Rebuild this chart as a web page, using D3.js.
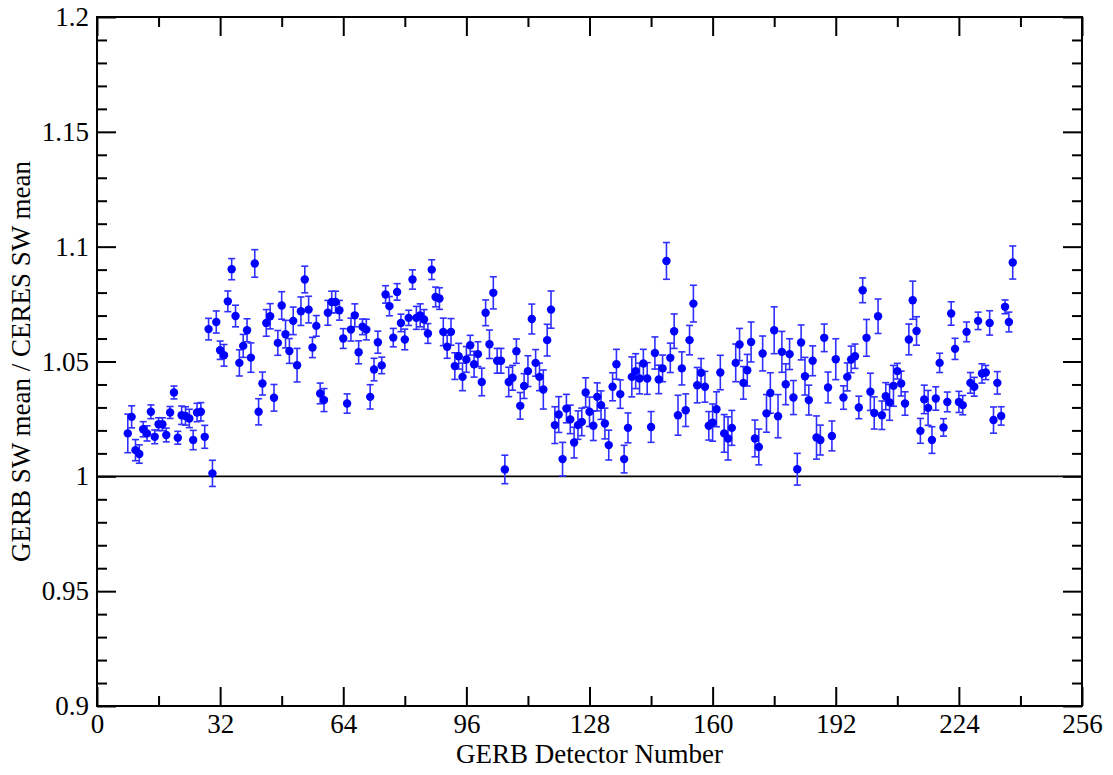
<!DOCTYPE html>
<html>
<head>
<meta charset="utf-8">
<title>GERB / CERES SW ratio</title>
<script src="https://cdn.jsdelivr.net/npm/d3@7"></script>
<style>
	body { margin: 0; background: #fff; }
	svg { display: block; }
	.axis text { font-family: "Liberation Serif", "DejaVu Serif", serif; font-size: 27px; fill: #000; }
	.axis line { stroke: #000; stroke-width: 2; }
	.axis path { display: none; }
	.axis-label { font-family: "Liberation Serif", "DejaVu Serif", serif; font-size: 27px; fill: #000; }
</style>
</head>
<body>
<svg id="ratio-chart" width="1113" height="775"></svg>
<script>
// detector numbers (x), no reading for 193
var detectors = [
	8, 9, 10, 11, 12, 13, 14, 15, 16, 17,
	18, 19, 20, 21, 22, 23, 24, 25, 26, 27,
	28, 29, 30, 31, 32, 33, 34, 35, 36, 37,
	38, 39, 40, 41, 42, 43, 44, 45, 46, 47,
	48, 49, 50, 51, 52, 53, 54, 55, 56, 57,
	58, 59, 60, 61, 62, 63, 64, 65, 66, 67,
	68, 69, 70, 71, 72, 73, 74, 75, 76, 77,
	78, 79, 80, 81, 82, 83, 84, 85, 86, 87,
	88, 89, 90, 91, 92, 93, 94, 95, 96, 97,
	98, 99, 100, 101, 102, 103, 104, 105, 106, 107,
	108, 109, 110, 111, 112, 113, 114, 115, 116, 117,
	118, 119, 120, 121, 122, 123, 124, 125, 126, 127,
	128, 129, 130, 131, 132, 133, 134, 135, 136, 137,
	138, 139, 140, 141, 142, 143, 144, 145, 146, 147,
	148, 149, 150, 151, 152, 153, 154, 155, 156, 157,
	158, 159, 160, 161, 162, 163, 164, 165, 166, 167,
	168, 169, 170, 171, 172, 173, 174, 175, 176, 177,
	178, 179, 180, 181, 182, 183, 184, 185, 186, 187,
	188, 189, 190, 191, 192,
	194, 195, 196, 197, 198, 199, 200, 201, 202, 203,
	204, 205, 206, 207, 208, 209, 210, 211, 212, 213,
	214, 215, 216, 217, 218, 219, 220, 221, 222, 223,
	224, 225, 226, 227, 228, 229, 230, 231, 232, 233,
	234, 235, 236, 237, 238
];

// GERB SW mean / CERES SW mean
var ratios = [
	1.0187, 1.0259, 1.0114, 1.0097, 1.0205, 1.0187, 1.0281, 1.0172, 1.0227, 1.0227,
	1.0180, 1.0278, 1.0365, 1.0168, 1.0266, 1.0263, 1.0252, 1.0158, 1.0278, 1.0281,
	1.0172, 1.0641, 1.0013, 1.0672, 1.0549, 1.0527, 1.0762, 1.0902, 1.0698, 1.0494,
	1.0568, 1.0636, 1.0517, 1.0927, 1.0281, 1.0404, 1.0668, 1.0697, 1.0342, 1.0581,
	1.0744, 1.0619, 1.0546, 1.0677, 1.0484, 1.0719, 1.0857, 1.0726, 1.0561, 1.0655,
	1.0361, 1.0332, 1.0712, 1.0759, 1.0759, 1.0723, 1.0600, 1.0317, 1.0639, 1.0701,
	1.0540, 1.0651, 1.0639, 1.0346, 1.0465, 1.0584, 1.0483, 1.0792, 1.0741, 1.0604,
	1.0803, 1.0668, 1.0596, 1.0690, 1.0857, 1.0690, 1.0701, 1.0683, 1.0622, 1.0900,
	1.0781, 1.0774, 1.0629, 1.0564, 1.0629, 1.0480, 1.0523, 1.0433, 1.0509, 1.0571,
	1.0488, 1.0532, 1.0411, 1.0712, 1.0575, 1.0799, 1.0503, 1.0503, 1.0030, 1.0411,
	1.0429, 1.0545, 1.0307, 1.0393, 1.0458, 1.0685, 1.0494, 1.0433, 1.0378, 1.0593,
	1.0726, 1.0223, 1.0269, 1.0075, 1.0295, 1.0248, 1.0147, 1.0223, 1.0237, 1.0365,
	1.0281, 1.0220, 1.0346, 1.0310, 1.0230, 1.0136, 1.0390, 1.0488, 1.0358, 1.0075,
	1.0211, 1.0433, 1.0458, 1.0426, 1.0491, 1.0426, 1.0215, 1.0537, 1.0422, 1.0470,
	1.0938, 1.0516, 1.0632, 1.0266, 1.0470, 1.0288, 1.0593, 1.0752, 1.0397, 1.0451,
	1.0390, 1.0220, 1.0234, 1.0292, 1.0452, 1.0187, 1.0165, 1.0211, 1.0494, 1.0574,
	1.0407, 1.0462, 1.0585, 1.0165, 1.0128, 1.0535, 1.0274, 1.0363, 1.0636, 1.0262,
	1.0542, 1.0401, 1.0532, 1.0343, 1.0031, 1.0583, 1.0436, 1.0332, 1.0503, 1.0169,
	1.0158, 1.0603, 1.0387, 1.0176, 1.0510,
	1.0343, 1.0433, 1.0509, 1.0523, 1.0300, 1.0810, 1.0603, 1.0368, 1.0276, 1.0697,
	1.0266, 1.0349, 1.0322, 1.0394, 1.0458, 1.0404, 1.0317, 1.0596, 1.0767, 1.0633,
	1.0198, 1.0335, 1.0298, 1.0158, 1.0339, 1.0494, 1.0213, 1.0324, 1.0709, 1.0555,
	1.0324, 1.0310, 1.0629, 1.0407, 1.0390, 1.0677, 1.0448, 1.0452, 1.0668, 1.0245,
	1.0407, 1.0263, 1.0738, 1.0672, 1.0931
];

// half length of the error bars
var errors = [
	0.0084, 0.0048, 0.0046, 0.0040, 0.0033, 0.0033, 0.0030, 0.0030, 0.0028, 0.0028,
	0.0030, 0.0026, 0.0028, 0.0028, 0.0040, 0.0040, 0.0040, 0.0042, 0.0040, 0.0040,
	0.0050, 0.0047, 0.0057, 0.0048, 0.0040, 0.0047, 0.0045, 0.0046, 0.0047, 0.0057,
	0.0050, 0.0050, 0.0064, 0.0060, 0.0057, 0.0050, 0.0058, 0.0055, 0.0058, 0.0054,
	0.0060, 0.0060, 0.0054, 0.0060, 0.0073, 0.0062, 0.0058, 0.0058, 0.0044, 0.0045,
	0.0045, 0.0050, 0.0054, 0.0047, 0.0047, 0.0043, 0.0043, 0.0042, 0.0050, 0.0050,
	0.0050, 0.0034, 0.0045, 0.0053, 0.0049, 0.0048, 0.0036, 0.0038, 0.0042, 0.0040,
	0.0036, 0.0038, 0.0045, 0.0033, 0.0042, 0.0050, 0.0050, 0.0043, 0.0043, 0.0043,
	0.0043, 0.0047, 0.0060, 0.0050, 0.0058, 0.0058, 0.0056, 0.0060, 0.0056, 0.0043,
	0.0056, 0.0054, 0.0060, 0.0056, 0.0062, 0.0070, 0.0054, 0.0054, 0.0062, 0.0064,
	0.0054, 0.0053, 0.0058, 0.0054, 0.0067, 0.0065, 0.0058, 0.0060, 0.0085, 0.0069,
	0.0081, 0.0080, 0.0078, 0.0073, 0.0062, 0.0062, 0.0067, 0.0062, 0.0060, 0.0064,
	0.0064, 0.0064, 0.0061, 0.0062, 0.0067, 0.0065, 0.0061, 0.0065, 0.0062, 0.0060,
	0.0065, 0.0087, 0.0076, 0.0067, 0.0062, 0.0069, 0.0067, 0.0070, 0.0062, 0.0058,
	0.0080, 0.0064, 0.0075, 0.0087, 0.0072, 0.0071, 0.0064, 0.0080, 0.0077, 0.0062,
	0.0067, 0.0062, 0.0081, 0.0076, 0.0075, 0.0082, 0.0094, 0.0076, 0.0082, 0.0070,
	0.0071, 0.0069, 0.0087, 0.0080, 0.0078, 0.0076, 0.0082, 0.0088, 0.0102, 0.0094,
	0.0089, 0.0089, 0.0067, 0.0074, 0.0069, 0.0076, 0.0082, 0.0065, 0.0065, 0.0094,
	0.0065, 0.0060, 0.0067, 0.0065, 0.0089,
	0.0051, 0.0061, 0.0058, 0.0053, 0.0049, 0.0054, 0.0080, 0.0081, 0.0070, 0.0075,
	0.0062, 0.0059, 0.0078, 0.0089, 0.0034, 0.0054, 0.0051, 0.0067, 0.0083, 0.0062,
	0.0054, 0.0062, 0.0076, 0.0058, 0.0051, 0.0042, 0.0038, 0.0043, 0.0051, 0.0046,
	0.0046, 0.0042, 0.0043, 0.0045, 0.0041, 0.0038, 0.0042, 0.0031, 0.0053, 0.0057,
	0.0049, 0.0040, 0.0030, 0.0043, 0.0072
];

var xTicks = [0, 32, 64, 96, 128, 160, 192, 224, 256];
var xMinorTicks = [16, 48, 80, 112, 144, 176, 208, 240];
var yTicks = [0.9, 0.95, 1, 1.05, 1.1, 1.15, 1.2];
var yTickLabels = ['0.9', '0.95', '1', '1.05', '1.1', '1.15', '1.2'];
var yMinorTicks = [0.91, 0.92, 0.93, 0.94, 0.96, 0.97, 0.98, 0.99, 1.01, 1.02, 1.03, 1.04,
	1.06, 1.07, 1.08, 1.09, 1.11, 1.12, 1.13, 1.14, 1.16, 1.17, 1.18, 1.19];
var referenceLine = [1];

window.app = window.app || {};

app.ratioChart = (function() {

	'use strict';

	/**
	* draw the ratio per detector with error bars
	* @returns {undefined}
	*/
	var createRatioChart = function() {
		var svg = d3.select('#ratio-chart'),
			margin = {
				top: 17,
				right: 31,
				bottom: 69,
				left: 97
			},
			width = +svg.attr('width') - margin.left - margin.right,
			height = +svg.attr('height') - margin.top - margin.bottom,
			majorTick = 19,
			minorTick = 10,
			cap = 3.5;

		var points = detectors.map(function(d, i) {
			return { det: d, ratio: ratios[i], err: errors[i] };
		});

		var xScale = d3.scaleLinear()
				.domain([0, 256])
				.range([0, width]);

		var yScale = d3.scaleLinear()
				.domain([0.9, 1.2])
				.range([height, 0]);

		var g = svg.append('g')
			.attr('transform', 'translate(' + margin.left + ',' + margin.top + ')');

		// line at ratio 1
		g.selectAll('.ref-line')
			.data(referenceLine)
			.enter()
			.append('line')
			.attr('class', 'ref-line')
			.attr('x1', 0)
			.attr('x2', width)
			.attr('y1', function(d) { return yScale(d); })
			.attr('y2', function(d) { return yScale(d); })
			.attr('stroke', '#000')
			.attr('stroke-width', 1.6);

		// error bars
		var bars = g.append('g')
			.attr('stroke', '#2f2fff')
			.attr('stroke-width', 1.6)
			.selectAll('g')
			.data(points)
			.enter()
			.append('g');

		bars.append('line')
			.attr('x1', function(d) { return xScale(d.det); })
			.attr('x2', function(d) { return xScale(d.det); })
			.attr('y1', function(d) { return yScale(d.ratio - d.err); })
			.attr('y2', function(d) { return yScale(d.ratio + d.err); });

		bars.append('line')
			.attr('x1', function(d) { return xScale(d.det) - cap; })
			.attr('x2', function(d) { return xScale(d.det) + cap; })
			.attr('y1', function(d) { return yScale(d.ratio + d.err); })
			.attr('y2', function(d) { return yScale(d.ratio + d.err); });

		bars.append('line')
			.attr('x1', function(d) { return xScale(d.det) - cap; })
			.attr('x2', function(d) { return xScale(d.det) + cap; })
			.attr('y1', function(d) { return yScale(d.ratio - d.err); })
			.attr('y2', function(d) { return yScale(d.ratio - d.err); });

		// markers
		g.append('g')
			.selectAll('circle')
			.data(points)
			.enter()
			.append('circle')
			.attr('cx', function(d) { return xScale(d.det); })
			.attr('cy', function(d) { return yScale(d.ratio); })
			.attr('r', 4.2)
			.attr('fill', '#0000ff');

		// axes, ticks point inwards on all four sides
		var fmtY = function(d) {
			return yTickLabels[yTicks.indexOf(d)];
		};

		g.append('g')
			.attr('class', 'axis')
			.attr('transform', 'translate(0,' + height + ')')
			.call(d3.axisBottom(xScale).tickValues(xTicks).tickSize(-majorTick).tickPadding(8).tickFormat(d3.format('d')));
		g.append('g')
			.attr('class', 'axis')
			.attr('transform', 'translate(0,' + height + ')')
			.call(d3.axisBottom(xScale).tickValues(xMinorTicks).tickSize(-minorTick).tickFormat(''));
		g.append('g')
			.attr('class', 'axis')
			.call(d3.axisTop(xScale).tickValues(xTicks).tickSize(-majorTick).tickFormat(''));
		g.append('g')
			.attr('class', 'axis')
			.call(d3.axisTop(xScale).tickValues(xMinorTicks).tickSize(-minorTick).tickFormat(''));

		g.append('g')
			.attr('class', 'axis')
			.call(d3.axisLeft(yScale).tickValues(yTicks).tickSize(-majorTick).tickPadding(8).tickFormat(fmtY));
		g.append('g')
			.attr('class', 'axis')
			.call(d3.axisLeft(yScale).tickValues(yMinorTicks).tickSize(-minorTick).tickFormat(''));
		g.append('g')
			.attr('class', 'axis')
			.attr('transform', 'translate(' + width + ',0)')
			.call(d3.axisRight(yScale).tickValues(yTicks).tickSize(-majorTick).tickFormat(''));
		g.append('g')
			.attr('class', 'axis')
			.attr('transform', 'translate(' + width + ',0)')
			.call(d3.axisRight(yScale).tickValues(yMinorTicks).tickSize(-minorTick).tickFormat(''));

		// frame
		g.append('rect')
			.attr('width', width)
			.attr('height', height)
			.attr('fill', 'none')
			.attr('stroke', '#000')
			.attr('stroke-width', 2);

		// axis titles
		svg.append('text')
			.attr('class', 'axis-label')
			.attr('x', margin.left + width / 2)
			.attr('y', 763)
			.attr('text-anchor', 'middle')
			.text('GERB Detector Number');

		svg.append('text')
			.attr('class', 'axis-label')
			.attr('transform', 'translate(30,' + (margin.top + height / 2) + ') rotate(-90)')
			.attr('text-anchor', 'middle')
			.text('GERB SW mean / CERES SW mean');
	};

	var init = function() {
		createRatioChart();
	};

	return {
		init: init
	};

})();

app.ratioChart.init();
</script>
</body>
</html>
